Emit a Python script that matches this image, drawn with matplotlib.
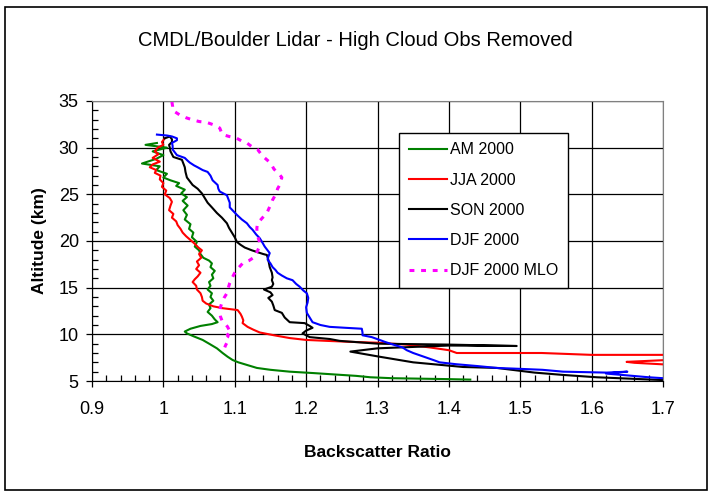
import matplotlib
matplotlib.use('Agg')
import matplotlib.pyplot as plt
from matplotlib.ticker import MultipleLocator
from matplotlib.patches import Rectangle

plt.rcParams['font.family'] = ['Liberation Sans', 'DejaVu Sans']

# AM 2000
am_alt = [30.5, 30.3, 30.0, 29.6, 29.2, 28.8, 28.3, 28.0, 27.6, 27.2, 26.8, 26.5, 26.2, 25.9,
          25.5, 25.1, 24.7, 24.3, 23.8, 23.3, 22.8, 22.3, 21.8, 21.3, 20.9, 20.4, 19.9, 19.4,
          19.0, 18.6, 18.2, 17.9, 17.6, 17.2, 16.8, 16.4, 16.0, 15.6, 15.2, 14.8, 14.4, 14.0,
          13.6, 13.2, 12.8, 12.4, 12.0, 11.6, 11.3, 11.1, 10.9, 10.6, 10.3, 10.1, 9.8, 9.4,
          9.0, 8.5, 8.0, 7.6, 7.25, 7.0, 6.7, 6.4, 6.2, 6.0, 5.85, 5.7, 5.55, 5.4, 5.3, 5.25,
          5.2, 5.15]
am_ratio = [0.991, 0.975, 1.005, 0.985, 1.000, 0.990, 0.970, 0.995, 0.990, 1.005, 1.000, 1.010,
            1.022, 1.018, 1.030, 1.025, 1.033, 1.027, 1.034, 1.028, 1.033, 1.030, 1.038, 1.036,
            1.042, 1.040, 1.047, 1.044, 1.050, 1.052, 1.056, 1.064, 1.068, 1.066, 1.072, 1.068,
            1.070, 1.064, 1.066, 1.062, 1.068, 1.066, 1.070, 1.064, 1.066, 1.062, 1.068, 1.072,
            1.076, 1.068, 1.052, 1.038, 1.030, 1.033, 1.042, 1.055, 1.064, 1.075, 1.083, 1.090,
            1.097, 1.105, 1.118, 1.131, 1.150, 1.177, 1.21, 1.24, 1.27, 1.29, 1.32, 1.36, 1.40,
            1.43]

# JJA 2000
jja_alt = [31.0, 30.6, 30.3, 30.0, 29.6, 29.3, 28.9, 28.5, 28.2, 27.9, 27.6, 27.3, 27.0, 26.6,
           26.2, 25.8, 25.4, 25.0, 24.6, 24.2, 23.8, 23.3, 22.9, 22.5, 22.1, 21.7, 21.3, 20.9,
           20.5, 20.1, 19.7, 19.3, 19.0, 18.6, 18.2, 17.8, 17.4, 17.0, 16.6, 16.2, 15.9, 15.6,
           15.2, 14.8, 14.4, 14.0, 13.6, 13.3, 13.0, 12.8, 12.6, 12.2, 11.9, 11.5, 11.2, 10.8,
           10.5, 10.2, 9.9, 9.6, 9.4, 9.3, 9.2, 9.1, 8.9, 8.6, 8.3, 8.0, 8.0, 7.8, 7.8, 7.3,
           7.05, 6.95, 6.7]
jja_ratio = [1.002, 0.998, 1.000, 0.992, 0.988, 0.993, 0.985, 0.995, 0.985, 0.981, 0.990, 0.988,
             0.996, 0.995, 1.000, 0.998, 1.004, 1.002, 1.009, 1.012, 1.010, 1.008, 1.014, 1.012,
             1.018, 1.020, 1.024, 1.027, 1.032, 1.038, 1.044, 1.049, 1.054, 1.050, 1.053, 1.047,
             1.050, 1.046, 1.052, 1.048, 1.044, 1.041, 1.046, 1.047, 1.052, 1.054, 1.055, 1.060,
             1.070, 1.083, 1.104, 1.108, 1.110, 1.112, 1.111, 1.118, 1.126, 1.135, 1.155, 1.177,
             1.200, 1.229, 1.26, 1.30, 1.34, 1.373, 1.40, 1.411, 1.53, 1.60, 1.72, 1.72,
             1.649, 1.66, 1.72]

# SON 2000
son_alt = [31.0, 31.2, 30.9, 30.6, 30.3, 30.0, 29.6, 29.3, 29.0, 28.7, 28.3, 27.9, 27.4, 26.8,
           26.4, 26.0, 25.6, 25.1, 24.6, 24.1, 23.6, 23.0, 22.5, 21.9, 21.4, 20.9, 20.4, 19.9,
           19.6, 19.3, 19.0, 18.8, 18.6, 18.5, 18.0, 17.6, 17.2, 16.6, 16.1, 15.8, 15.4, 15.1,
           14.8, 14.5, 14.2, 13.9, 13.5, 13.1, 12.6, 12.3, 11.8, 11.3, 11.2, 10.9, 10.7, 10.4,
           10.1, 9.9, 9.7, 9.5, 9.3, 9.0, 8.9, 8.75, 8.8, 8.5, 8.15, 7.6, 7.0, 6.5, 6.4, 5.9,
           5.65, 5.4, 5.1]
son_ratio = [1.002, 1.009, 1.012, 1.012, 1.008, 1.009, 1.010, 1.012, 1.014, 1.026, 1.028, 1.030,
             1.031, 1.033, 1.037, 1.041, 1.048, 1.054, 1.058, 1.062, 1.068, 1.075, 1.082, 1.089,
             1.092, 1.096, 1.100, 1.103, 1.108, 1.114, 1.124, 1.132, 1.140, 1.145, 1.147, 1.148,
             1.149, 1.152, 1.153, 1.152, 1.154, 1.152, 1.141, 1.150, 1.153, 1.147, 1.152, 1.154,
             1.156, 1.166, 1.170, 1.177, 1.198, 1.205, 1.209, 1.200, 1.195, 1.200, 1.205, 1.233,
             1.247, 1.30, 1.40, 1.495, 1.40, 1.30, 1.262, 1.303, 1.35, 1.42, 1.467, 1.52, 1.56,
             1.607, 1.70]

# DJF 2000
djf_alt = [31.4, 31.3, 31.2, 31.0, 30.8, 30.5, 30.2, 29.8, 29.5, 29.2, 28.9, 28.6, 28.4, 28.1,
           27.9, 27.6, 27.4, 27.0, 26.5, 26.0, 25.6, 25.3, 24.9, 24.5, 24.1, 23.6, 23.2, 22.8,
           22.3, 21.9, 21.5, 21.2, 20.7, 20.3, 19.8, 19.4, 19.0, 18.7, 18.3, 18.0, 17.6, 17.2,
           16.9, 16.6, 16.3, 16.0, 15.8, 15.4, 15.1, 14.7, 14.4, 13.9, 13.4, 12.9, 12.3, 11.8,
           11.3, 11.0, 10.8, 10.7, 10.6, 10.2, 9.9, 9.7, 9.4, 9.2, 8.9, 8.6, 8.3, 8.0, 7.6, 7.2,
           7.0, 6.8, 6.6, 6.4, 6.3, 6.2, 6.0, 5.9, 6.0, 5.8, 5.6, 5.4, 5.3]
djf_ratio = [0.991, 1.005, 1.012, 1.019, 1.019, 1.012, 1.013, 1.013, 1.016, 1.019, 1.030, 1.034,
             1.037, 1.043, 1.048, 1.055, 1.062, 1.066, 1.069, 1.076, 1.077, 1.079, 1.089, 1.091,
             1.093, 1.093, 1.098, 1.103, 1.110, 1.117, 1.121, 1.125, 1.130, 1.135, 1.139, 1.142,
             1.146, 1.149, 1.147, 1.146, 1.150, 1.153, 1.157, 1.160, 1.166, 1.173, 1.181, 1.186,
             1.191, 1.196, 1.201, 1.203, 1.202, 1.200, 1.201, 1.205, 1.209, 1.220, 1.233, 1.255,
             1.278, 1.279, 1.279, 1.292, 1.303, 1.310, 1.322, 1.335, 1.341, 1.350, 1.365, 1.380,
             1.387, 1.410, 1.440, 1.467, 1.50, 1.531, 1.56, 1.621, 1.65, 1.62, 1.65, 1.68, 1.70]

# DJF 2000 MLO
mlo_alt = [34.9, 34.4, 34.0, 33.5, 33.2, 33.0, 32.8, 32.7, 32.4, 32.1, 31.7, 31.4, 31.2, 31.0,
           30.7, 30.5, 30.1, 29.8, 29.3, 28.9, 28.5, 28.1, 27.7, 27.4, 27.1, 26.8, 26.4, 26.0,
           25.6, 25.3, 24.8, 24.4, 24.0, 23.5, 23.0, 22.5, 21.9, 21.4, 20.9, 20.3, 19.8, 19.3,
           18.8, 18.3, 17.9, 17.6, 17.1, 16.6, 16.0, 15.5, 15.0, 14.4, 13.9, 13.4, 12.9, 12.3,
           11.9, 11.5, 11.1, 10.8, 10.5, 10.3, 10.1, 9.9, 9.7, 9.4, 9.1, 8.8, 8.6]
mlo_ratio = [1.012, 1.013, 1.013, 1.023, 1.032, 1.040, 1.050, 1.061, 1.072, 1.079, 1.081, 1.083,
             1.092, 1.103, 1.110, 1.117, 1.124, 1.132, 1.137, 1.142, 1.148, 1.152, 1.155, 1.159,
             1.163, 1.166, 1.164, 1.163, 1.160, 1.159, 1.156, 1.153, 1.151, 1.148, 1.145, 1.139,
             1.132, 1.131, 1.131, 1.133, 1.135, 1.134, 1.131, 1.128, 1.120, 1.111, 1.105, 1.100,
             1.096, 1.093, 1.091, 1.089, 1.085, 1.082, 1.080, 1.079, 1.080, 1.082, 1.087, 1.090,
             1.092, 1.093, 1.088, 1.091, 1.090, 1.087, 1.089, 1.087, 1.086]

fig = plt.figure(figsize=(7.12, 4.95), dpi=100)
ax = fig.add_axes([0.1292, 0.2303, 0.8020, 0.5657])

ax.plot(am_ratio, am_alt, color='#008000', lw=1.5, label='AM 2000')
ax.plot(jja_ratio, jja_alt, color='#FF0000', lw=1.5, label='JJA 2000')
ax.plot(son_ratio, son_alt, color='black', lw=1.5, label='SON 2000')
ax.plot(djf_ratio, djf_alt, color='#0000FF', lw=1.5, label='DJF 2000')
ax.plot(mlo_ratio, mlo_alt, color='#FF00FF', lw=2.2, linestyle=(0, (1.6, 2.2)),
        label='DJF 2000 MLO')

ax.set_xlim(0.9, 1.7)
ax.set_ylim(5, 35)
ax.xaxis.set_major_locator(MultipleLocator(0.1))
ax.xaxis.set_minor_locator(MultipleLocator(0.02))
ax.yaxis.set_major_locator(MultipleLocator(5))
ax.yaxis.set_minor_locator(MultipleLocator(1))
ax.set_xticklabels([f'{v:g}' for v in ax.get_xticks()])
ax.grid(True, which='major', color='black', lw=0.9)
ax.set_axisbelow(True)

ax.tick_params(which='major', direction='out', length=4.5, width=0.9, labelsize=13)
ax.tick_params(axis='x', which='major', pad=10)
ax.tick_params(axis='y', which='major', pad=5)
ax.tick_params(which='minor', direction='in', length=4, width=0.9)

for side in ['top', 'right']:
    ax.spines[side].set_color('#808080')
for side in ['left', 'bottom']:
    ax.spines[side].set_color('black')

ax.set_xlabel('Backscatter Ratio', fontsize=12.5, fontweight='bold')
ax.set_ylabel('Altitude (km)', fontsize=12.5, fontweight='bold')
ax.xaxis.set_label_coords(0.5, -0.23)
ax.yaxis.set_label_coords(-0.078, 0.5)

fig.text(0.4986, 0.919, 'CMDL/Boulder Lidar - High Cloud Obs Removed', ha='center', va='center',
         fontsize=14.5)

leg = ax.legend(loc='upper left', bbox_to_anchor=(0.5377, 0.886), borderaxespad=0, fontsize=11.5,
                frameon=True, fancybox=False, framealpha=1, edgecolor='black',
                labelspacing=0.95, borderpad=0.6, handlelength=2.4, handletextpad=0.2)
leg.get_frame().set_linewidth(1)

fig.patches.append(Rectangle((0.007, 0.010), 0.986, 0.976, transform=fig.transFigure,
                             fill=False, edgecolor='black', lw=1.2))

plt.savefig('out.png', dpi=100)
